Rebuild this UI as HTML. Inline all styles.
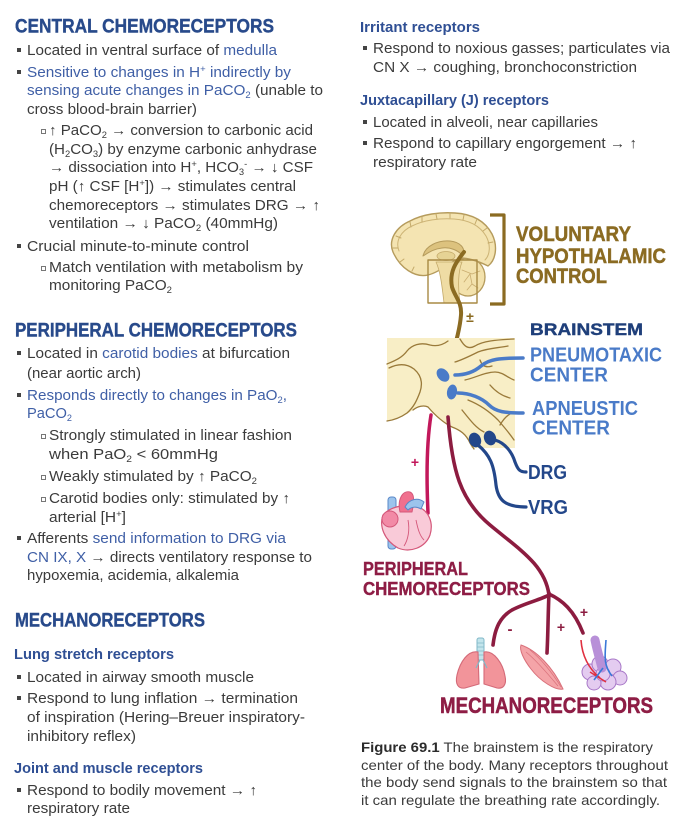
<!DOCTYPE html>
<html><head><meta charset="utf-8"><style>
html,body{margin:0;padding:0;background:#fff;}
svg{display:block;}
.t{font-family:"Liberation Sans",sans-serif;font-size:14.5px;fill:#3b3b3b;}
.b{fill:#3f5fa6;}
.h{font-family:"Liberation Sans",sans-serif;font-weight:bold;font-size:19.5px;fill:#284a8b;stroke:#284a8b;stroke-width:0.4;}
.s{font-family:"Liberation Sans",sans-serif;font-weight:bold;font-size:15px;fill:#2f4f94;}
.c{font-family:"Liberation Sans",sans-serif;font-size:14px;fill:#3b3b3b;}
.lab{font-family:"Liberation Sans",sans-serif;font-weight:bold;}
</style></head><body>
<svg width="699" height="819" viewBox="0 0 699 819" xmlns="http://www.w3.org/2000/svg">
<rect width="699" height="819" fill="#fff"/>

<!-- ============ CENTRAL ============ -->
<text class="h" x="15" y="32.5" textLength="259" lengthAdjust="spacingAndGlyphs">CENTRAL CHEMORECEPTORS</text>
<g fill="#444">
<rect x="17" y="48" width="4" height="4"/>
<rect x="17" y="70" width="4" height="4"/>
<rect x="17" y="244" width="4" height="4"/>
<rect x="17" y="351" width="4" height="4"/>
<rect x="17" y="393" width="4" height="4"/>
<rect x="17" y="536" width="4" height="4"/>
<rect x="17" y="675" width="4" height="4"/>
<rect x="17" y="696" width="4" height="4"/>
<rect x="17" y="788" width="4" height="4"/>
<rect x="363" y="46" width="4" height="4"/>
<rect x="363" y="120" width="4" height="4"/>
<rect x="363" y="141" width="4" height="4"/>
</g>
<g fill="none" stroke="#777" stroke-width="1">
<rect x="41.5" y="129.5" width="4" height="4"/>
<rect x="41.5" y="266.5" width="4" height="4"/>
<rect x="41.5" y="434.5" width="4" height="4"/>
<rect x="41.5" y="475.5" width="4" height="4"/>
<rect x="41.5" y="497.5" width="4" height="4"/>
</g>

<text class="t" x="27" y="55" textLength="250" lengthAdjust="spacingAndGlyphs">Located in ventral surface of <tspan class="b">medulla</tspan></text>
<text class="t b" x="27" y="77" textLength="264" lengthAdjust="spacingAndGlyphs">Sensitive to changes in H<tspan font-size="9" dy="-5">+</tspan><tspan dy="5"> indirectly by</tspan></text>
<text class="t" x="27" y="95" textLength="296" lengthAdjust="spacingAndGlyphs"><tspan class="b">sensing acute changes in PaCO</tspan><tspan class="b" font-size="9" dy="3">2</tspan><tspan dy="-3">  (unable to</tspan></text>
<text class="t" x="27" y="114" textLength="170" lengthAdjust="spacingAndGlyphs">cross blood-brain barrier)</text>
<text class="t" x="49" y="135" textLength="264" lengthAdjust="spacingAndGlyphs">↑ PaCO<tspan font-size="9" dy="3">2</tspan><tspan dy="-3"> → conversion to carbonic acid</tspan></text>
<text class="t" x="49" y="154" textLength="268" lengthAdjust="spacingAndGlyphs">(H<tspan font-size="9" dy="3">2</tspan><tspan dy="-3">CO</tspan><tspan font-size="9" dy="3">3</tspan><tspan dy="-3">) by enzyme carbonic anhydrase</tspan></text>
<text class="t" x="49" y="172" textLength="264" lengthAdjust="spacingAndGlyphs">→ dissociation into H<tspan font-size="9" dy="-5">+</tspan><tspan dy="5">, HCO</tspan><tspan font-size="9" dy="3">3</tspan><tspan font-size="9" dy="-8">-</tspan><tspan dy="5"> → ↓ CSF</tspan></text>
<text class="t" x="49" y="191" textLength="247" lengthAdjust="spacingAndGlyphs">pH (↑ CSF [H<tspan font-size="9" dy="-5">+</tspan><tspan dy="5">]) → stimulates central</tspan></text>
<text class="t" x="49" y="210" textLength="271" lengthAdjust="spacingAndGlyphs">chemoreceptors → stimulates DRG → ↑</text>
<text class="t" x="49" y="228" textLength="229" lengthAdjust="spacingAndGlyphs">ventilation → ↓ PaCO<tspan font-size="9" dy="3">2</tspan><tspan dy="-3"> (40mmHg)</tspan></text>
<text class="t" x="27" y="251" textLength="222" lengthAdjust="spacingAndGlyphs">Crucial minute-to-minute control</text>
<text class="t" x="49" y="272" textLength="254" lengthAdjust="spacingAndGlyphs">Match ventilation with metabolism by</text>
<text class="t" x="49" y="290" textLength="123" lengthAdjust="spacingAndGlyphs">monitoring PaCO<tspan font-size="9" dy="3">2</tspan></text>

<!-- ============ PERIPHERAL ============ -->
<text class="h" x="15" y="336.7" textLength="282" lengthAdjust="spacingAndGlyphs">PERIPHERAL CHEMORECEPTORS</text>
<text class="t" x="27" y="358" textLength="263" lengthAdjust="spacingAndGlyphs">Located in <tspan class="b">carotid bodies</tspan> at bifurcation</text>
<text class="t" x="27" y="378" textLength="114" lengthAdjust="spacingAndGlyphs">(near aortic arch)</text>
<text class="t b" x="27" y="400" textLength="260" lengthAdjust="spacingAndGlyphs">Responds directly to changes in PaO<tspan font-size="9" dy="3">2</tspan><tspan dy="-3">,</tspan></text>
<text class="t b" x="27" y="418" textLength="45" lengthAdjust="spacingAndGlyphs">PaCO<tspan font-size="9" dy="3">2</tspan></text>
<text class="t" x="49" y="440" textLength="243" lengthAdjust="spacingAndGlyphs">Strongly stimulated in linear fashion</text>
<text class="t" x="49" y="459" textLength="169" lengthAdjust="spacingAndGlyphs">when PaO<tspan font-size="9" dy="3">2</tspan><tspan dy="-3"> &lt; 60mmHg</tspan></text>
<text class="t" x="49" y="481" textLength="208" lengthAdjust="spacingAndGlyphs">Weakly stimulated by ↑ PaCO<tspan font-size="9" dy="3">2</tspan></text>
<text class="t" x="49" y="503" textLength="241" lengthAdjust="spacingAndGlyphs">Carotid bodies only: stimulated by ↑</text>
<text class="t" x="49" y="522" textLength="77" lengthAdjust="spacingAndGlyphs">arterial [H<tspan font-size="9" dy="-5">+</tspan><tspan dy="5">]</tspan></text>
<text class="t" x="27" y="543" textLength="259" lengthAdjust="spacingAndGlyphs">Afferents <tspan class="b">send information to DRG via</tspan></text>
<text class="t" x="27" y="562" textLength="285" lengthAdjust="spacingAndGlyphs"><tspan class="b">CN IX, X</tspan> → directs ventilatory response to</text>
<text class="t" x="27" y="580" textLength="212" lengthAdjust="spacingAndGlyphs">hypoxemia, acidemia, alkalemia</text>

<!-- ============ MECHANO ============ -->
<text class="h" x="15" y="626.7" textLength="190" lengthAdjust="spacingAndGlyphs">MECHANORECEPTORS</text>
<text class="s" x="14" y="659" textLength="160" lengthAdjust="spacingAndGlyphs">Lung stretch receptors</text>
<text class="t" x="27" y="682" textLength="227" lengthAdjust="spacingAndGlyphs">Located in airway smooth muscle</text>
<text class="t" x="27" y="703" textLength="271" lengthAdjust="spacingAndGlyphs">Respond to lung inflation → termination</text>
<text class="t" x="27" y="722" textLength="278" lengthAdjust="spacingAndGlyphs">of inspiration (Hering–Breuer inspiratory-</text>
<text class="t" x="27" y="741" textLength="109" lengthAdjust="spacingAndGlyphs">inhibitory reflex)</text>
<text class="s" x="14" y="773" textLength="189" lengthAdjust="spacingAndGlyphs">Joint and muscle receptors</text>
<text class="t" x="27" y="795" textLength="230" lengthAdjust="spacingAndGlyphs">Respond to bodily movement → ↑</text>
<text class="t" x="27" y="813" textLength="103" lengthAdjust="spacingAndGlyphs">respiratory rate</text>

<!-- ============ RIGHT TOP ============ -->
<text class="s" x="360" y="32" textLength="120" lengthAdjust="spacingAndGlyphs">Irritant receptors</text>
<text class="t" x="373" y="53" textLength="297" lengthAdjust="spacingAndGlyphs">Respond to noxious gasses; particulates via</text>
<text class="t" x="373" y="72" textLength="264" lengthAdjust="spacingAndGlyphs">CN X → coughing, bronchoconstriction</text>
<text class="s" x="360" y="105" textLength="189" lengthAdjust="spacingAndGlyphs">Juxtacapillary (J) receptors</text>
<text class="t" x="373" y="127" textLength="225" lengthAdjust="spacingAndGlyphs">Located in alveoli, near capillaries</text>
<text class="t" x="373" y="148" textLength="264" lengthAdjust="spacingAndGlyphs">Respond to capillary engorgement → ↑</text>
<text class="t" x="373" y="167" textLength="104" lengthAdjust="spacingAndGlyphs">respiratory rate</text>

<!-- ============ FIGURE ============ -->
<!-- brain -->
<g stroke-linejoin="round" stroke-linecap="round">
<ellipse cx="468" cy="277" rx="17" ry="19" fill="#f3e2ad" stroke="#b59b5c" stroke-width="1.3"/>
<path d="M393,252 C388,240 396,227 410,221 C423,214 440,212 455,213 C472,214 485,221 492,234 C498,246 496,260 488,266 C480,262 470,258 460,258 C450,262 440,272 428,275 C415,278 400,268 393,252 Z" fill="#f4e4b2" stroke="#b59b5c" stroke-width="1.4"/>
<path d="M399,251 C395,241 401,231 412,226 C424,220 440,218 454,219 C469,220 480,226 486,236 C491,245 490,255 485,260" fill="none" stroke="#cdb476" stroke-width="1"/>
<g stroke="#c4aa6a" stroke-width="1">
<path d="M410,222 l1,5"/><path d="M422,217 l0,5"/><path d="M436,214 l1,5"/><path d="M450,213 l0,5"/><path d="M464,215 l-1,5"/><path d="M477,219 l-2,5"/><path d="M487,228 l-4,3"/><path d="M493,242 l-5,1"/><path d="M396,236 l5,2"/><path d="M393,248 l5,0"/><path d="M400,262 l4,-3"/><path d="M412,271 l2,-4"/>
</g>
<path d="M423,256 C425,246 438,240 450,241 C460,242 466,248 463,256 C458,250 450,247 442,248 C433,249 428,253 423,256 Z" fill="#dcc27e" stroke="#b59b5c" stroke-width="1"/>
<ellipse cx="446" cy="256" rx="9" ry="4.5" fill="#e6d394" stroke="#c4aa6a" stroke-width="0.8"/>
<path d="M436,262 C440,270 442,285 444,303 L460,303 C458,288 458,272 462,262 Z" fill="#efdca4" stroke="#c4aa6a" stroke-width="0.8"/>
<g stroke="#c9ad70" stroke-width="0.8" fill="none">
<path d="M462,270 l10,4 l8,-3"/><path d="M470,274 l2,10 l6,4"/><path d="M472,284 l-5,6"/><path d="M464,282 l6,-8"/>
</g>
<rect x="428" y="260" width="49" height="43" fill="none" stroke="#a88a44" stroke-width="1.4"/>
<path d="M464,252 C456,262 449,272 452,287 C455,297 462,302 461,315 C460,328 456,342 452,356" fill="none" stroke="#8b6b22" stroke-width="4"/>
</g>
<!-- bracket -->
<path d="M490,215 L504,215 L504,304 L490,304" fill="none" stroke="#8b6b22" stroke-width="3.2" stroke-linejoin="round"/>
<text x="470" y="322" font-family="Liberation Sans,sans-serif" font-weight="bold" font-size="14" fill="#8b6b22" text-anchor="middle">±</text>

<text class="lab" x="516" y="241" font-size="21.5" fill="#8b6b22" stroke="#8b6b22" stroke-width="0.5" textLength="115" lengthAdjust="spacingAndGlyphs">VOLUNTARY</text>
<text class="lab" x="516" y="263" font-size="21.5" fill="#8b6b22" stroke="#8b6b22" stroke-width="0.5" textLength="150" lengthAdjust="spacingAndGlyphs">HYPOTHALAMIC</text>
<text class="lab" x="516" y="283" font-size="21.5" fill="#8b6b22" stroke="#8b6b22" stroke-width="0.5" textLength="91" lengthAdjust="spacingAndGlyphs">CONTROL</text>

<!-- brainstem box -->
<rect x="387" y="338" width="128" height="110" fill="#f8eec6"/>
<path d="M387,421 C395,420 405,416 413,410 C418,406 424,405 428,407 C434,414 442,422 452,427 C460,430 465,434 469,442 L472,449 L386,449 Z" fill="#fff"/>
<g fill="none" stroke="#9a7a3a" stroke-width="1.3" stroke-linecap="round" stroke-linejoin="round">
<path d="M387,364 C394,361 402,358 407,351 C412,345 420,342 430,345 C438,347 444,344 448,341"/>
<path d="M389,368 C397,364 406,363 414,369 C421,375 423,383 420,392 C417,400 414,407 407,413 C400,418 394,420 387,421"/>
<path d="M413,410 C418,406 424,405 428,407 C434,414 442,422 452,427 C460,430 466,434 470,443 L474,449"/>
<path d="M460,339 C464,346 468,350 475,346 C483,341 495,340 514,339"/>
<path d="M455,362 C462,360 470,356 478,352 C488,348 498,348 508,346"/>
<path d="M465,380 C475,378 485,372 495,372 C503,372 508,378 514,380"/>
<path d="M468,400 C478,404 488,410 498,420 C505,428 510,434 514,440"/>
<path d="M462,410 C470,420 476,428 484,432"/>
<path d="M490,385 C496,392 502,396 510,398"/>
<path d="M480,360 C482,366 486,368 492,366"/>
<path d="M500,425 C504,418 508,414 514,412"/>
</g>
<!-- light blue ovals -->
<ellipse cx="443" cy="375" rx="5.5" ry="7.5" transform="rotate(-40 443 375)" fill="#4a7bc8"/>
<ellipse cx="452" cy="392" rx="5" ry="7.5" transform="rotate(10 452 392)" fill="#4a7bc8"/>
<g fill="none" stroke="#4a7bc8" stroke-width="3.5" stroke-linecap="round">
<path d="M455,375 C465,375 474,372 481,366 C489,359 500,358 523,358"/>
<path d="M458,393 C470,393 482,398 489,405 C496,412 505,413 523,413"/>
</g>
<!-- dark ovals & DRG/VRG lines -->
<g fill="none" stroke="#23478a" stroke-width="3.2" stroke-linecap="round">
<path d="M495,440 C505,443 512,452 515,462 C518,470 520,472 526,472"/>
<path d="M478,445 C490,455 494,465 496,485 C498,500 505,507 526,507"/>
</g>
<ellipse cx="475" cy="440" rx="6" ry="7.5" transform="rotate(-20 475 440)" fill="#23478a"/>
<ellipse cx="490" cy="438" rx="6" ry="7.5" transform="rotate(-20 490 438)" fill="#23478a"/>

<text class="lab" x="530" y="335" font-size="17" fill="#1f3f7a" stroke="#1f3f7a" stroke-width="0.4" textLength="113" lengthAdjust="spacingAndGlyphs">BRAINSTEM</text>
<text class="lab" x="530" y="361.5" font-size="20.5" fill="#4a7bc8" textLength="132" lengthAdjust="spacingAndGlyphs">PNEUMOTAXIC</text>
<text class="lab" x="530" y="381.5" font-size="20.5" fill="#4a7bc8" textLength="78" lengthAdjust="spacingAndGlyphs">CENTER</text>
<text class="lab" x="532" y="415" font-size="20.5" fill="#4a7bc8" textLength="106" lengthAdjust="spacingAndGlyphs">APNEUSTIC</text>
<text class="lab" x="532" y="434.5" font-size="20.5" fill="#4a7bc8" textLength="78" lengthAdjust="spacingAndGlyphs">CENTER</text>
<text class="lab" x="528" y="479" font-size="20" fill="#23478a" textLength="39" lengthAdjust="spacingAndGlyphs">DRG</text>
<text class="lab" x="528" y="514" font-size="20" fill="#23478a" textLength="40" lengthAdjust="spacingAndGlyphs">VRG</text>

<!-- red lines -->
<path d="M431,415 C427,440 426,470 428,513" fill="none" stroke="#c2185b" stroke-width="3.5" stroke-linecap="round"/>
<text x="415" y="467" font-family="Liberation Sans,sans-serif" font-weight="bold" font-size="14" fill="#c2185b" text-anchor="middle">+</text>
<g fill="none" stroke="#8c1c40" stroke-width="3.6" stroke-linecap="round">
<path d="M448,417 C452,470 460,500 490,525 C520,550 545,565 549,595"/>
<path d="M549,595 C540,600 525,603 512,610 C500,617 495,628 493,645"/>
<path d="M549,593 C548,615 548,635 547,653"/>
<path d="M549,594 C562,600 574,610 583,633"/>
</g>
<text x="510" y="634" font-family="Liberation Sans,sans-serif" font-weight="bold" font-size="15" fill="#8c1c40" text-anchor="middle">-</text>
<text x="561" y="632" font-family="Liberation Sans,sans-serif" font-weight="bold" font-size="14" fill="#8c1c40" text-anchor="middle">+</text>
<text x="584" y="617" font-family="Liberation Sans,sans-serif" font-weight="bold" font-size="14" fill="#8c1c40" text-anchor="middle">+</text>

<!-- heart -->
<g stroke-linejoin="round">
<rect x="388" y="497" width="8" height="52" rx="3" fill="#9cc4ec" stroke="#5a88c8" stroke-width="1"/>
<path d="M383,515 C379,526 384,540 398,548 C410,553 425,548 430,535 C434,522 428,510 418,507 C408,504 392,505 383,515 Z" fill="#f9cad8" stroke="#d4587a" stroke-width="1.2"/>
<ellipse cx="390" cy="519" rx="8" ry="8" fill="#f28aa6" stroke="#d4587a" stroke-width="1"/>
<path d="M400,512 C397,499 403,490 410,492 C415,494 414,502 412,512 Z" fill="#f0708e" stroke="#d4587a" stroke-width="1"/>
<path d="M405,507 C409,499 418,497 424,502 L421,509 C416,506 411,507 408,510 Z" fill="#9cc4ec" stroke="#5a88c8" stroke-width="1"/>
<path d="M408,520 C410,530 408,540 404,546 M416,520 C418,530 420,536 424,540" fill="none" stroke="#d4587a" stroke-width="0.9"/>
</g>
<text class="lab" x="363" y="575" font-size="18" fill="#8e1d45" stroke="#8e1d45" stroke-width="0.4" textLength="105" lengthAdjust="spacingAndGlyphs">PERIPHERAL</text>
<text class="lab" x="363" y="595" font-size="18" fill="#8e1d45" stroke="#8e1d45" stroke-width="0.4" textLength="167" lengthAdjust="spacingAndGlyphs">CHEMORECEPTORS</text>

<!-- lungs -->
<g stroke-linejoin="round">
<rect x="477" y="638" width="7" height="22" rx="2" fill="#c3e5ec" stroke="#80b8c8" stroke-width="1"/>
<g stroke="#80b8c8" stroke-width="0.8"><path d="M477,643 h7 M477,647 h7 M477,651 h7 M477,655 h7"/></g>
<path d="M478,652 C468,650 460,662 457,675 C455,684 458,689 465,688 L479,684 Z" fill="#f2949a" stroke="#d46a78" stroke-width="1.1"/>
<path d="M484,652 C494,650 503,664 505,676 C507,685 503,689 497,688 L484,684 Z" fill="#f2949a" stroke="#d46a78" stroke-width="1.1"/>
<path d="M480,660 l-4,8 M483,660 l4,8" stroke="#80b8c8" stroke-width="1.2" fill="none"/>
</g>
<!-- muscle -->
<path d="M521,645 C536,650 553,667 563,689 C556,691 540,681 531,669 C524,660 519,650 521,645 Z" fill="#f4a4a8" stroke="#d9707a" stroke-width="1"/>
<path d="M526,652 C536,660 548,674 558,686 M530,650 C540,658 552,672 561,687" fill="none" stroke="#d9707a" stroke-width="0.7"/>
<!-- alveoli -->
<g fill="#e4ccf0" stroke="#a878c8" stroke-width="1">
<circle cx="590" cy="672" r="8"/><circle cx="600" cy="664" r="8"/><circle cx="613" cy="667" r="8"/><circle cx="620" cy="678" r="7"/><circle cx="608" cy="682" r="8"/><circle cx="594" cy="683" r="7"/><circle cx="603" cy="674" r="7"/>
</g>
<path d="M595,640 C597,650 600,660 602,668" fill="none" stroke="#b890d8" stroke-width="9" stroke-linecap="round"/>
<path d="M581,640 C582,655 588,668 600,678 M590,672 L606,682" fill="none" stroke="#e03040" stroke-width="1.6"/>
<path d="M606,640 C605,655 603,665 612,676 M603,668 L594,680" fill="none" stroke="#3a78d8" stroke-width="1.6"/>

<text class="lab" x="440" y="713" font-size="22" fill="#8e1d45" stroke="#8e1d45" stroke-width="0.5" textLength="213" lengthAdjust="spacingAndGlyphs">MECHANORECEPTORS</text>

<!-- caption -->
<text class="c" x="361" y="752" textLength="292" lengthAdjust="spacingAndGlyphs"><tspan font-weight="bold" fill="#2b2b2b">Figure 69.1</tspan>  The brainstem is the respiratory</text>
<text class="c" x="361" y="770" textLength="307" lengthAdjust="spacingAndGlyphs">center of the body. Many receptors throughout</text>
<text class="c" x="361" y="787" textLength="306" lengthAdjust="spacingAndGlyphs">the body send signals to the brainstem so that</text>
<text class="c" x="361" y="805" textLength="299" lengthAdjust="spacingAndGlyphs">it can regulate the breathing rate accordingly.</text>
</svg>
</body></html>
